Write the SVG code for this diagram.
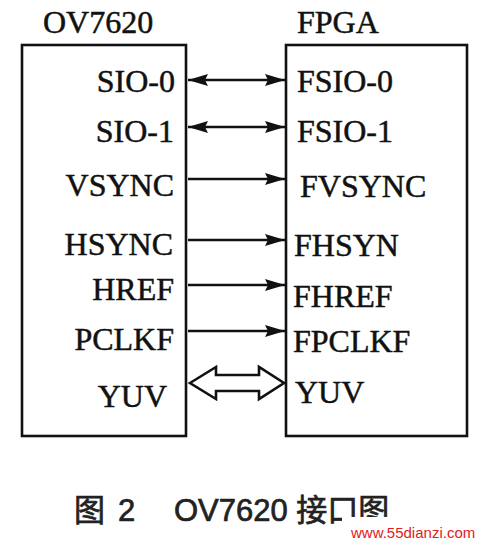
<svg xmlns="http://www.w3.org/2000/svg" width="485" height="540" viewBox="0 0 485 540">
<style>
.box{fill:none;stroke:#111;stroke-width:2.6}
.lbl{font-family:"Liberation Serif","Times New Roman",serif;font-size:32px;fill:#111;stroke:#111;stroke-width:0.5}
.l{text-anchor:end}
.wire{stroke:#111;stroke-width:2.6;fill:none}
.one{marker-end:url(#ah)}
.two{marker-start:url(#ah);marker-end:url(#ah)}
.cap{font-family:"Liberation Sans","Noto Sans CJK SC",sans-serif;font-size:31px;fill:#222;stroke:#222;stroke-width:0.7}
</style>
<defs>
<marker id="ah" markerUnits="userSpaceOnUse" markerWidth="20" markerHeight="12" refX="20" refY="6" orient="auto-start-reverse">
<path d="M0,0 L20,6 L0,12 L3,6 z" fill="#111"/>
</marker>
</defs>
<rect width="485" height="540" fill="#fff"/>
<g id="ov7620">
<rect class="box" x="22" y="45" width="164" height="391"/>
<text class="lbl" x="43" y="33">OV7620</text>
<text class="lbl l" x="175" y="92">SIO-0</text>
<text class="lbl l" x="174" y="142">SIO-1</text>
<text class="lbl l" x="174" y="196">VSYNC</text>
<text class="lbl l" x="173" y="255">HSYNC</text>
<text class="lbl l" x="174" y="300">HREF</text>
<text class="lbl l" x="174" y="350">PCLKF</text>
<text class="lbl l" x="167" y="407">YUV</text>
</g>
<g id="fpga">
<rect class="box" x="286" y="45" width="181" height="391"/>
<text class="lbl" x="297" y="33">FPGA</text>
<text class="lbl" x="297" y="92">FSIO-0</text>
<text class="lbl" x="297" y="142">FSIO-1</text>
<text class="lbl" x="300" y="197">FVSYNC</text>
<text class="lbl" x="294" y="256">FHSYN</text>
<text class="lbl" x="293" y="307">FHREF</text>
<text class="lbl" x="293" y="352">FPCLKF</text>
<text class="lbl" x="295" y="403">YUV</text>
</g>
<g id="connectors">
<line class="wire two" x1="188" y1="80" x2="285" y2="80"/>
<line class="wire two" x1="188" y1="127" x2="285" y2="127"/>
<line class="wire one" x1="188" y1="179" x2="285" y2="179"/>
<line class="wire one" x1="188" y1="240" x2="285" y2="240"/>
<line class="wire one" x1="188" y1="285" x2="285" y2="285"/>
<line class="wire one" x1="188" y1="331" x2="285" y2="331"/>
<polygon points="190,383 216,367 216,375 259,375 259,367 284,383 259,399 259,391 216,391 216,399" fill="#fff" stroke="#111" stroke-width="2.6" stroke-linejoin="miter"/>
</g>
<g id="caption">
<text class="cap" x="74" y="521">图</text>
<text class="cap" x="118" y="521">2</text>
<text class="cap" x="174" y="521">OV7620 接口图</text>
<rect x="342" y="517" width="143" height="23" fill="#fff"/>
<text x="351" y="538" font-family="Liberation Sans, Arial, sans-serif" font-size="15" fill="#e02020">www.55dianzi.com</text>
</g>
</svg>
